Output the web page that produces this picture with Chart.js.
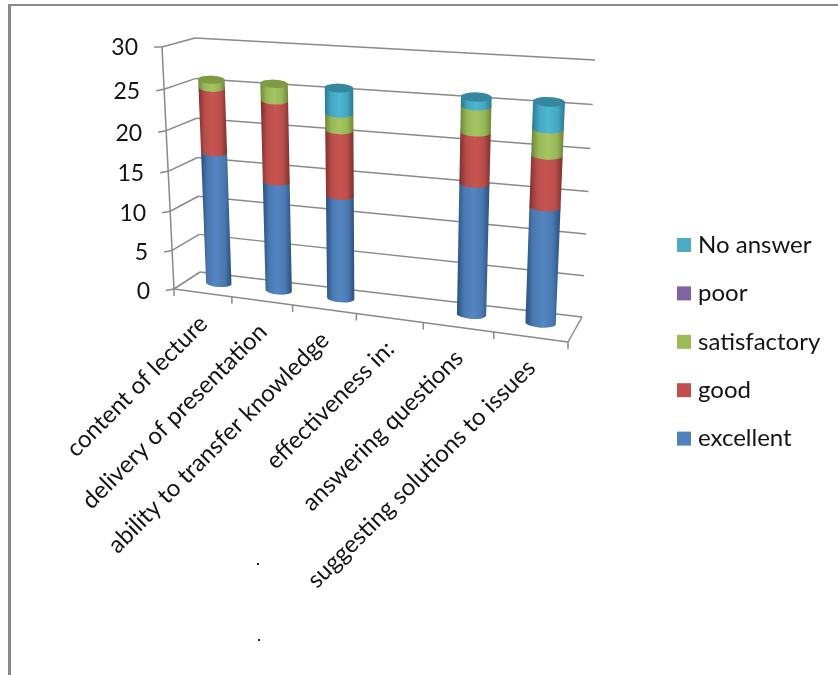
<!DOCTYPE html>
<html>
<head>
<meta charset="utf-8">
<style>
html,body{margin:0;padding:0;background:#fff;width:838px;height:675px;overflow:hidden}
#c{position:absolute;left:0;top:0}
.frameTop{position:absolute;left:8px;top:4px;right:0;height:2px;background:#8a8a8a}
.frameLeft{position:absolute;left:8px;top:4px;bottom:0;width:3px;background:#8a8a8a}
.dot{position:absolute;width:2px;height:2px;background:#222}
</style>
<script src="https://cdn.jsdelivr.net/npm/chart.js@4"></script>
</head>
<body>
<div class="frameTop"></div>
<div class="frameLeft"></div>
<div class="dot" style="left:257px;top:563px"></div>
<div class="dot" style="left:258px;top:639px"></div>
<canvas id="c" width="838" height="675"></canvas>
<script>
const categories = ['content of lecture','delivery of presentation','ability to transfer knowledge','effectiveness in:','answering questions','suggesting solutions to issues'];
const excellent    = [17,14,13,0,16,14];
const good         = [8,10,8,0,6,6];
const satisfactory = [1,2,2,0,3,3];
const poor         = [0,0,0,0,0,0];
const noAnswer     = [0,0,3,0,1,3];
const yTicks = [0,5,10,15,20,25,30];

const FONT = 'Lato, Carlito, sans-serif';
const INK = '#141414';
const GRID = '#8a8a8a';

// square-to-quad perspective map [TL, TR, BR, BL]
function quad(p){
  const [p0,p1,p2,p3]=p;
  const dx1=p1[0]-p2[0],dx2=p3[0]-p2[0],sx=p0[0]-p1[0]+p2[0]-p3[0];
  const dy1=p1[1]-p2[1],dy2=p3[1]-p2[1],sy=p0[1]-p1[1]+p2[1]-p3[1];
  const den=dx1*dy2-dx2*dy1;
  const g=(sx*dy2-dx2*sy)/den,h=(dx1*sy-sx*dy1)/den;
  const a=p1[0]-p0[0]+g*p1[0],b=p3[0]-p0[0]+h*p3[0],c=p0[0];
  const d=p1[1]-p0[1]+g*p1[1],e=p3[1]-p0[1]+h*p3[1],f=p0[1];
  return (u,v)=>{const w=g*u+h*v+1;return [(a*u+b*v+c)/w,(d*u+e*v+f)/w];};
}
const backWall = quad([[195,38],[595,60],[582,317],[200,272]]);
const midPlane = quad([[179.5,45],[588,68],[576,327.5],[189.5,279.5]]);
const frontPlane = quad([[162,47],[580,62],[568,342],[174,289]]);

const shades = {
  excellent:['#29507f','#4a78b0','#5486c2'],
  good:['#7f302e','#b84d4a','#c85552'],
  satisfactory:['#6f873a','#98b757','#a5c561'],
  poor:['#5c4775','#7c619c','#8568a8'],
  'No answer':['#287a92','#46a6c0','#4db7d2']
};
const caps = {excellent:'#3f6a9e',good:'#9c3f3c',satisfactory:'#7f9a40',poor:'#64507f','No answer':'#35879f'};

function line(ctx,a,b){ctx.beginPath();ctx.moveTo(a[0],a[1]);ctx.lineTo(b[0],b[1]);ctx.stroke();}

const scene3d = {
  id:'scene3d',
  beforeDatasetsDraw(chart){
    const ctx=chart.ctx, area=chart.chartArea, ys=chart.scales.y, xs=chart.scales.x;
    const U=px=>(px-area.left)/(area.right-area.left);
    const V=py=>(py-area.top)/(area.bottom-area.top);
    ctx.save();
    ctx.strokeStyle=GRID;ctx.lineWidth=1.5;ctx.lineCap='butt';
    // walls, gridlines, value ticks and labels
    ctx.font='23px '+FONT;ctx.fillStyle=INK;ctx.textAlign='right';ctx.textBaseline='middle';
    yTicks.forEach(t=>{
      const v=V(ys.getPixelForValue(t));
      const bl=backWall(0,v),br=backWall(1,v),fl=frontPlane(0,v);
      line(ctx,bl,br);
      line(ctx,bl,fl);
      const tl=[fl[0]-8,fl[1]+(t===30?0:1.5)];
      line(ctx,fl,tl);
      ctx.fillText(String(t),tl[0]-16,tl[1]+1);
    });
    // axis and floor edges
    line(ctx,frontPlane(0,0),frontPlane(0,1));
    line(ctx,frontPlane(0,1),frontPlane(1,1));
    line(ctx,frontPlane(1,1),backWall(1,1));
    // category ticks and labels
    ctx.font='24px '+FONT;ctx.textBaseline='middle';
    for(let i=0;i<=categories.length;i++){
      const p=frontPlane(i/categories.length,1);
      line(ctx,p,[p[0],p[1]+7]);
    }
    categories.forEach((c,i)=>{
      const p=frontPlane(U(xs.getPixelForValue(i)),1);
      ctx.save();
      ctx.translate(p[0]+1,p[1]+27);
      ctx.rotate(-Math.PI/4);
      ctx.textAlign='right';
      ctx.fillText(c,0,0);
      ctx.restore();
    });
    // cylinders, from the library's bar elements
    categories.forEach((c,i)=>{
      let top=null;
      chart.data.datasets.forEach((ds,di)=>{
        if(!ds.data[i])return;
        const el=chart.getDatasetMeta(di).data[i];
        const hw=el.width/2;
        const bL=midPlane(U(el.x-hw),V(el.base)),bR=midPlane(U(el.x+hw),V(el.base));
        const tL=midPlane(U(el.x-hw),V(el.y)),tR=midPlane(U(el.x+hw),V(el.y));
        const rb=Math.hypot(bR[0]-bL[0],bR[1]-bL[1])/2, rt=Math.hypot(tR[0]-tL[0],tR[1]-tL[1])/2;
        const ang=Math.atan2(bR[1]-bL[1],bR[0]-bL[0])*0.6;
        const s=shades[ds.label];
        const g=ctx.createLinearGradient(Math.min(bL[0],tL[0]),0,Math.max(bR[0],tR[0]),0);
        g.addColorStop(0,s[0]);g.addColorStop(.22,s[1]);g.addColorStop(.5,s[2]);g.addColorStop(.78,s[1]);g.addColorStop(1,s[0]);
        ctx.fillStyle=g;
        ctx.beginPath();
        ctx.moveTo(bL[0],bL[1]);
        ctx.ellipse((bL[0]+bR[0])/2,(bL[1]+bR[1])/2,rb,rb*.3,ang,Math.PI,0,true);
        ctx.lineTo(tR[0],tR[1]);
        ctx.ellipse((tL[0]+tR[0])/2,(tL[1]+tR[1])/2,rt,rt*.3,ang,0,Math.PI,true);
        ctx.closePath();ctx.fill();
        top={tL,tR,rt,ang,label:ds.label};
      });
      if(top){
        ctx.fillStyle=caps[top.label];
        ctx.beginPath();
        ctx.ellipse((top.tL[0]+top.tR[0])/2,(top.tL[1]+top.tR[1])/2,top.rt,top.rt*.3,top.ang,0,Math.PI*2);
        ctx.fill();
      }
    });
    // legend, reversed series order
    ctx.font='24px '+FONT;ctx.textAlign='left';ctx.textBaseline='middle';
    const ds=[...chart.data.datasets].reverse();
    ds.forEach((d,i)=>{
      const y=245+i*48.4;
      ctx.fillStyle=d.backgroundColor;
      ctx.fillRect(677,y-7,14,14);
      ctx.fillStyle=INK;
      ctx.fillText(d.label,698,y);
    });
    ctx.restore();
    return false;
  }
};

new Chart(document.getElementById('c'),{
  type:'bar',
  data:{labels:categories,datasets:[
    {label:'excellent',data:excellent,backgroundColor:'#4f81bd'},
    {label:'good',data:good,backgroundColor:'#c0504d'},
    {label:'satisfactory',data:satisfactory,backgroundColor:'#9bbb59'},
    {label:'poor',data:poor,backgroundColor:'#8064a2'},
    {label:'No answer',data:noAnswer,backgroundColor:'#4bacc6'}
  ]},
  options:{
    responsive:false,animation:false,
    layout:{padding:{left:174,top:47,right:270,bottom:386}},
    datasets:{bar:{barPercentage:1,categoryPercentage:.43}},
    plugins:{legend:{display:false},tooltip:{enabled:false}},
    scales:{
      x:{display:false,stacked:true},
      y:{display:false,stacked:true,min:0,max:30}
    }
  },
  plugins:[scene3d]
});
</script>
</body>
</html>
